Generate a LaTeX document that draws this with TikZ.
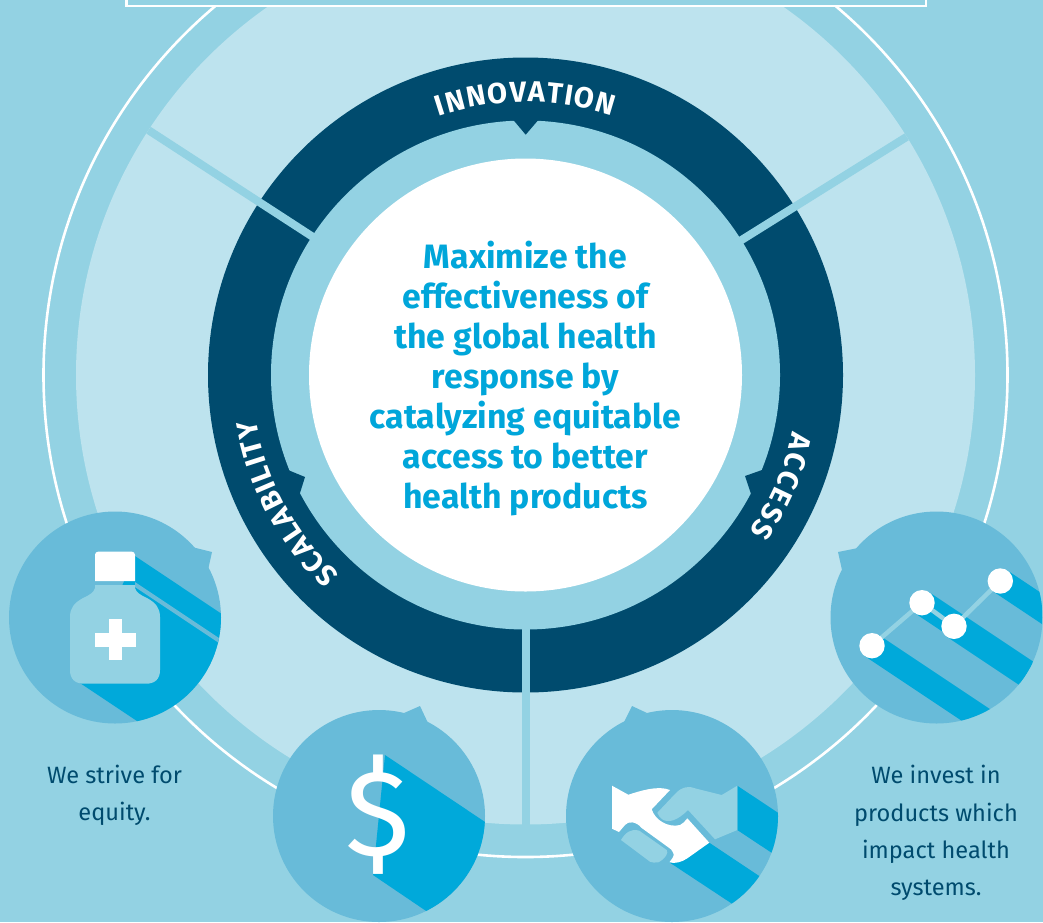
\documentclass[tikz,border=0pt]{standalone}
\usepackage{fontspec}
\setmainfont{Fira Sans}
\usetikzlibrary{decorations.text}
\definecolor{bgblue}{RGB}{147,210,227}
\definecolor{paleblue}{RGB}{189,227,238}
\definecolor{badgeblue}{RGB}{104,187,217}
\definecolor{shadowblue}{RGB}{0,169,218}
\definecolor{navyblue}{RGB}{0,75,110}
\definecolor{titleblue}{RGB}{0,166,218}
\newcommand{\arcfont}{\fontsize{29}{29}\selectfont\bfseries\color{white}}

\begin{document}
\begin{tikzpicture}[x=1pt,y=-1pt,
                badge/.style={fill=badgeblue},
                cast/.style={fill=shadowblue},
                pale/.style={fill=bgblue},
                spoke/.style={draw=bgblue,line width=8},
                notch/.style={fill=navyblue},
                dot/.style={fill=white},
                arclabel/.style={decorate,decoration={text along path,text align={fit to path},text={|\arcfont|#1}}},
                caption/.style={align=center,text=navyblue,font=\fontsize{23.6}{37.3}\selectfont},
                goal/.style={align=center,text=titleblue,font=\fontsize{33.8}{40}\selectfont\bfseries}
            ]
                \clip (0,0) rectangle (1043,922);
                \fill[bgblue] (0,0) rectangle (1043,922);
                \coordinate (hub) at (525.5,375);

                \draw[white,line width=2.6] (hub) circle[radius=482];
                \fill[paleblue] (hub) circle[radius=449.5];
                \fill[navyblue] (hub) circle[radius=317.5];
                \foreach \a in {-147,-32,90}
                    \draw[spoke] (hub) ++(\a:250) -- ++(\a:199.5);
                \fill[bgblue] (hub) circle[radius=254.5];
                \fill[notch] (511.7,118) -- (525.7,134.7) -- (540,118) -- cycle;
                \fill[notch] (288,470) -- (305,477) -- (300,493) -- (290,490) -- cycle;
                \fill[notch] (762,470) -- (745,476) -- (751,494) -- (762,490) -- cycle;
                \fill[white] (hub) circle[radius=216.5];

                \path[arclabel=INNOVATION] (hub) ++(-108.5:273) arc[start angle=-108.5,end angle=-71.5,radius=273];
                \path[arclabel=SCALABILITY] (hub) ++(133:273) arc[start angle=133,end angle=170.5,radius=273];
                \path[arclabel=ACCESS] (hub) ++(12:273) arc[start angle=12,end angle=35,radius=273];

                \node[goal] (goal) at (525.5,378.5) {Maximize the\\effectiveness of\\the global health\\response by\\catalyzing equitable\\access to better\\health products};

                \draw[white,line width=2.6,fill=bgblue] (126.5,-20) rectangle (926,6);

                \fill[badge] (115,617.5) circle[radius=106];
                \fill[badge] (192,547) -- (212,552) -- (208,570) -- cycle;
                \begin{scope}
                    \clip (115,617.5) circle[radius=106];
                    \fill[cast] (135,556) -- (245,629.5) -- (245,793) -- (80,683) -- cycle;
                    \fill[badge] (135,582) -- (240,652) -- (240,657) -- (135,587) -- cycle;
                \end{scope}
                \fill[pale] (95,585) -- (135,585) -- (135,588) .. controls (136,592) and (140,595) .. (147,598) .. controls (156,603) and (160,608) .. (160,617) -- (160,670) .. controls (160,679) and (155,683.7) .. (146,683.7) -- (84,683.7) .. controls (75,683.7) and (70,679) .. (70,670) -- (70,617) .. controls (70,608) and (74,603) .. (83,598) .. controls (90,595) and (94,592) .. (95,588) -- cycle;
                \fill[white] (95,581) [rounded corners=3] -- (95,551.7) -- (135,551.7) [sharp corners] -- (135,581) -- cycle;
                \fill[white] (108.7,619) rectangle (122.3,660);
                \fill[white] (95,632.7) rectangle (136,646.7);

                \fill[badge] (379,816) circle[radius=106];
                \fill[badge] (404,713) -- (420,706) -- (428,723) -- cycle;
                \begin{scope}
                    \clip (379,816) circle[radius=106];
                    \fill[cast] (385,755) -- (500,832) -- (500,961) -- (373,875) -- cycle;
                \end{scope}
                \node[text=white,font=\fontsize{122}{122}\selectfont] (dollar) at (378,814.5) {\$};

                \fill[badge] (672,816) circle[radius=106];
                \fill[badge] (624,722) -- (632,706) -- (647,713) -- cycle;
                \begin{scope}
                    \clip (672,816) circle[radius=106];
                    \fill[cast] (737.3,785.7) -- (790,820.8) -- (790,865) -- (737.3,830) -- cycle;
                    \fill[cast] (709.3,842.7) -- (790,896.5) -- (790,942) -- (669.3,862.3) -- cycle;
                \end{scope}
                \fill[white] (612,785.7) -- (628.3,794.7) .. controls (640,791) and (658,785) .. (670,790) -- (651.7,809.3) .. controls (655,820) and (668,828) .. (680,825) .. controls (683,824) and (685,821) .. (687.3,818.3) -- (709.3,842.7) -- (687.3,858.3) .. controls (682,862) and (675,864) .. (669.3,862.3) .. controls (672,859) and (675,855) .. (673.3,853.3) .. controls (672,850) and (670,848) .. (668.3,847.3) -- (641.7,828) .. controls (636,821) and (628,821) .. (625,825) -- (619,832) -- (612,828.7) -- cycle;
                \fill[pale] (621,840) .. controls (625,833) and (631,828) .. (639.3,830.7) -- (666.7,850) .. controls (669,853) and (665,859) .. (658.3,862.3) .. controls (655,863) and (652,862.5) .. (650,861.7) -- cycle;
                \fill[pale] (737.3,785.7) -- (737.3,830) -- (715,839.3) -- (688,810) .. controls (682,816) and (672,824) .. (663.3,820) .. controls (660,818) and (658,815) .. (657.3,812.7) -- (675,794) .. controls (682,786) and (690,786) .. (695,788.3) -- (721.7,795) -- cycle;

                \fill[badge] (936.5,617.5) circle[radius=106];
                \fill[badge] (838,552) -- (858,548) -- (842,570) -- cycle;
                \begin{scope}
                    \clip (936.5,617.5) circle[radius=106];
                    \foreach \x/\y in {872/645.7,922/602.7,954/626.3,1000.3/581}
                        \draw[shadowblue,line width=25.4] (\x,\y) -- ++(150,100);
                \end{scope}
                \draw[bgblue,line width=4.5] (872,645.7) -- (922,602.7) -- (954,626.3) -- (1000.3,581);
                \foreach \x/\y in {872/645.7,922/602.7,954/626.3,1000.3/581}
                    \fill[dot] (\x,\y) circle[radius=12.7];

                \node[caption] (equity) at (114.5,795.5) {We strive for\\equity.};
                \node[caption] (invest) at (936,833) {We invest in\\products which\\impact health\\systems.};
            \end{tikzpicture}
\end{document}
